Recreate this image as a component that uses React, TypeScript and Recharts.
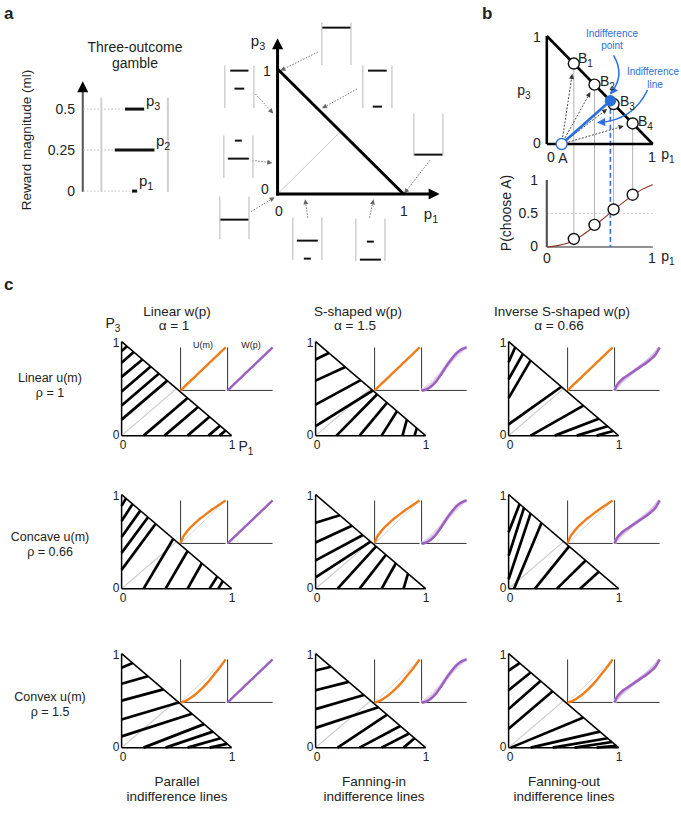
import React from "react";
import { ComposedChart, Scatter, XAxis, YAxis, ReferenceLine } from "recharts";

// ---------------- data ----------------

// panel a: example three-outcome gamble
const rewardLevels = [0, 0.25, 0.5];
const rewardTicks = ["0", "0.25", "0.5"];
const gambleProbs = [0.08, 0.62, 0.3]; // p1, p2, p3

// small gamble icons around the Marschak-Machina triangle: [p1, p2, p3]
const iconGambles = [
  [0, 0, 1],
  [0, 0.35, 0.65],
  [0.33, 0, 0.67],
  [0, 0.75, 0.25],
  [1, 0, 0],
  [0, 1, 0],
  [0.25, 0.75, 0],
  [0.75, 0.25, 0],
];
// dotted pointers from the icons to the triangle: [fromP1, fromP3, toP1, toP3]
const iconPointers = [
  [0.32, 1.136, 0.03, 0.99],
  [-0.175, 0.8, -0.04, 0.65],
  [0.63, 0.84, 0.36, 0.69],
  [-0.2, 0.27, -0.05, 0.25],
  [1.21, 0.27, 1.01, 0.01],
  [-0.21, -0.14, -0.03, -0.03],
  [0.24, -0.19, 0.22, -0.05],
  [0.73, -0.19, 0.76, -0.05],
];

// panel b
const optionA = [0.14, 0];
const optionsBp1 = [0.255, 0.45, 0.63, 0.81];
const optionsBp3 = [0.745, 0.55, 0.37, 0.19];
const chooseA = [0.12, 0.33, 0.56, 0.78];
const indiffPoint = [0.6, 0.4];
const fitP1 = [0, 0.1, 0.2, 0.3, 0.4, 0.5, 0.6, 0.7, 0.8, 0.9, 1];
const fitChooseA = [0, 0.02, 0.06, 0.14, 0.25, 0.38, 0.51, 0.64, 0.76, 0.86, 0.93];

// panel c: inset curves
const mGrid = [0, 0.05, 0.1, 0.2, 0.3, 0.4, 0.5, 0.6, 0.7, 0.8, 0.9, 1];
const uLinear = [0, 0.05, 0.1, 0.2, 0.3, 0.4, 0.5, 0.6, 0.7, 0.8, 0.9, 1];
const uConcave = [0, 0.14, 0.22, 0.35, 0.45, 0.55, 0.63, 0.71, 0.79, 0.86, 0.93, 1];
const uConvex = [0, 0.01, 0.03, 0.09, 0.16, 0.25, 0.35, 0.46, 0.59, 0.72, 0.85, 1];
const wLinear = [0, 0.05, 0.1, 0.2, 0.3, 0.4, 0.5, 0.6, 0.7, 0.8, 0.9, 1];
const wSShaped = [0, 0.005, 0.02, 0.08, 0.18, 0.32, 0.48, 0.64, 0.78, 0.89, 0.96, 1];
const wSShapedFit = [0, 0.02, 0.04, 0.11, 0.21, 0.34, 0.49, 0.63, 0.76, 0.87, 0.95, 1];
const wInvS = [0, 0.12, 0.19, 0.29, 0.36, 0.43, 0.5, 0.57, 0.64, 0.72, 0.82, 1];
const wInvSFit = [0, 0.1, 0.16, 0.26, 0.34, 0.42, 0.5, 0.58, 0.66, 0.75, 0.86, 1];

// panel c: indifference lines [p1a, p3a, p1b, p3b]
const linesLinLin = [
  [0, 0.9, 0.05, 0.95], [0, 0.775, 0.11, 0.89], [0, 0.625, 0.19, 0.81], [0, 0.47, 0.265, 0.735],
  [0, 0.32, 0.34, 0.66], [0, 0.17, 0.415, 0.585],
  [0.2, 0, 0.6, 0.4], [0.39, 0, 0.695, 0.305], [0.6, 0, 0.8, 0.2], [0.79, 0, 0.895, 0.105], [0.89, 0, 0.945, 0.055],
];
const linesLinS = [
  [0, 0.81, 0.12, 0.88], [0, 0.585, 0.27, 0.73], [0, 0.33, 0.41, 0.59], [0, 0.1, 0.52, 0.48],
  [0.19, 0, 0.56, 0.44], [0.4, 0, 0.65, 0.35], [0.6, 0, 0.74, 0.26], [0.79, 0, 0.83, 0.17], [0.9, 0, 0.92, 0.08],
];
const linesLinInv = [
  [0, 0.78, 0.06, 0.94], [0, 0.6, 0.13, 0.87], [0, 0.4, 0.2, 0.8], [0, 0.12, 0.48, 0.52],
  [0.2, 0, 0.68, 0.32], [0.42, 0, 0.82, 0.18], [0.62, 0, 0.9, 0.1], [0.8, 0, 0.95, 0.05],
];
const linesConLin = [
  [0, 0.88, 0.04, 0.96], [0, 0.72, 0.1, 0.9], [0, 0.55, 0.17, 0.83], [0, 0.38, 0.24, 0.76], [0, 0.2, 0.31, 0.69],
  [0.2, 0, 0.47, 0.53], [0.4, 0, 0.6, 0.4], [0.6, 0, 0.73, 0.27], [0.8, 0, 0.87, 0.13], [0.88, 0, 0.92, 0.08],
];
const linesConS = [
  [0, 0.7, 0.22, 0.78], [0, 0.49, 0.33, 0.67], [0, 0.3, 0.43, 0.57], [0, 0.12, 0.5, 0.5],
  [0.2, 0, 0.55, 0.45], [0.4, 0, 0.64, 0.36], [0.6, 0, 0.73, 0.27], [0.8, 0, 0.84, 0.16],
];
const linesConInv = [
  [0, 0.6, 0.1, 0.9], [0, 0.35, 0.14, 0.86], [0, 0.1, 0.2, 0.8], [0.05, 0, 0.3, 0.7],
  [0.24, 0, 0.55, 0.45], [0.44, 0, 0.7, 0.3], [0.65, 0, 0.82, 0.18],
];
const linesVexLin = [
  [0, 0.85, 0.1, 0.9], [0, 0.68, 0.24, 0.76], [0, 0.5, 0.38, 0.62], [0, 0.3, 0.52, 0.48], [0, 0.12, 0.64, 0.36],
  [0.2, 0, 0.75, 0.25], [0.4, 0, 0.83, 0.17], [0.6, 0, 0.9, 0.1], [0.8, 0, 0.96, 0.04],
];
const linesVexS = [
  [0, 0.82, 0.14, 0.86], [0, 0.61, 0.3, 0.7], [0, 0.41, 0.44, 0.56], [0, 0.21, 0.57, 0.43],
  [0.2, 0, 0.65, 0.35], [0.4, 0, 0.77, 0.23], [0.6, 0, 0.85, 0.15], [0.8, 0, 0.9, 0.1],
];
const linesVexInv = [
  [0, 0.82, 0.1, 0.9], [0, 0.61, 0.2, 0.8], [0, 0.41, 0.29, 0.71], [0, 0.2, 0.4, 0.6],
  [0.02, 0, 0.68, 0.32], [0.2, 0, 0.83, 0.17], [0.4, 0, 0.9, 0.1], [0.6, 0, 0.94, 0.06], [0.8, 0, 0.98, 0.02],
];

const colTitles = ["Linear w(p)", "S-shaped w(p)", "Inverse S-shaped w(p)"];
const colAlphas = ["α = 1", "α = 1.5", "α = 0.66"];
const colFooters = ["Parallel", "Fanning-in", "Fanning-out"];
const rowTitles = ["Linear u(m)", "Concave u(m)", "Convex u(m)"];
const rowRhos = ["ρ = 1", "ρ = 0.66", "ρ = 1.5"];
const rowU = [uLinear, uConcave, uConvex];
const colW = [wLinear, wSShaped, wInvS];
const colWFit = [null, wSShapedFit, wInvSFit];
const cellLines = [
  [linesLinLin, linesLinS, linesLinInv],
  [linesConLin, linesConS, linesConInv],
  [linesVexLin, linesVexS, linesVexInv],
];

// ---------------- layout / style ----------------
const FONT = "'Liberation Sans', Arial, Helvetica, sans-serif";
const ORANGE = "#ef7d1a";
const PURPLE = "#9c5fbf";
const PURPLE_LIGHT = "#d9c0e8";
const BLUE = "#2a6fdb";
const triLefts = [122, 316, 509];
const triTops = [342, 495, 654];
const rowLabelY = [378, 537, 697];
const TRI_W = 110;
const TRI_H = 94;
const outline = [[0, 0, 1, 0], [0, 0, 0, 1], [0, 1, 1, 0]];

// ---------------- helpers ----------------
function Txt({ x, y, children, size = 12, color = "#222", align = "center", rotate = 0, bold = false }: any) {
  const tx = align === "center" ? "-50%" : align === "right" ? "-100%" : "0";
  return (
    <div
      style={{
        position: "absolute", left: x, top: y, transform: `translate(${tx}, -50%) rotate(${rotate}deg)`,
        fontSize: size, color, fontWeight: bold ? 700 : 400, whiteSpace: "nowrap", lineHeight: 1, fontFamily: FONT,
      }}
    >
      {children}
    </div>
  );
}

const Sub = ({ c }: any) => (
  <span style={{ fontSize: "0.72em", position: "relative", top: "0.35em" }}>{c}</span>
);

function Frame({ ox, oy, sx, sy, xd = [-0.06, 1.06], yd = [-0.06, 1.06], children }: any) {
  const left = ox + xd[0] * sx;
  const top = oy - yd[1] * sy;
  const width = (xd[1] - xd[0]) * sx;
  const height = (yd[1] - yd[0]) * sy;
  return (
    <div style={{ position: "absolute", left, top, width, height }}>
      <ComposedChart width={width} height={height} margin={{ top: 0, right: 0, bottom: 0, left: 0 }}>
        <XAxis type="number" dataKey="x" domain={xd} hide allowDataOverflow />
        <YAxis type="number" dataKey="y" domain={yd} hide allowDataOverflow />
        {children}
      </ComposedChart>
    </div>
  );
}

const arrowShape = (marker: string, dash?: string) => (p: any) => (
  <line x1={p.x1} y1={p.y1} x2={p.x2} y2={p.y2} stroke={p.stroke} strokeWidth={p.strokeWidth}
    strokeDasharray={dash} markerEnd={`url(#${marker})`} />
);

const bentShape = (bend: number, marker: string) => (p: any) => {
  const mx = (p.x1 + p.x2) / 2, my = (p.y1 + p.y2) / 2;
  const dx = p.x2 - p.x1, dy = p.y2 - p.y1;
  const cx = mx - dy * bend, cy = my + dx * bend;
  return (
    <path d={`M${p.x1},${p.y1} Q${cx},${cy} ${p.x2},${p.y2}`} fill="none" stroke={p.stroke}
      strokeWidth={p.strokeWidth} markerEnd={`url(#${marker})`} />
  );
};

function seg(s: number[], stroke: string, width: number, key: any, extra: any = {}) {
  return (
    <ReferenceLine key={key} segment={[{ x: s[0], y: s[1] }, { x: s[2], y: s[3] }]} stroke={stroke}
      strokeWidth={width} ifOverflow="visible" {...extra} />
  );
}

function curve(xs: number[], ys: number[], stroke: string, width: number, key: any, extra: any = {}) {
  const data = xs.map((x, i) => ({ x, y: ys[i] }));
  return (
    <Scatter key={key} data={data} line={{ stroke, strokeWidth: width }} lineJointType="monotoneX"
      shape={() => <g />} isAnimationActive={false} {...extra} />
  );
}

function dots(xs: number[], ys: number[], key: any, fill: string, stroke: string, r = 5, extra: any = {}) {
  const data = xs.map((x, i) => ({ x, y: ys[i] }));
  return (
    <Scatter key={key} data={data} isAnimationActive={false} {...extra}
      shape={(p: any) => <circle cx={p.cx} cy={p.cy} r={r} fill={fill} stroke={stroke} strokeWidth={1.4} />} />
  );
}

function Markers() {
  const mk = (id: string, color: string, w: number, h: number, refX = 7) => (
    <marker id={id} viewBox="0 0 10 10" refX={refX} refY="5" markerWidth={w} markerHeight={h}
      markerUnits="userSpaceOnUse" orient="auto">
      <path d="M0,0 L10,5 L0,10 z" fill={color} />
    </marker>
  );
  return (
    <svg width={0} height={0} style={{ position: "absolute" }}>
      <defs>
        {mk("ahBlack", "#000", 14, 11)}
        {mk("ahGray", "#666", 6, 5, 8)}
        {mk("ahDark", "#333", 6, 5, 8)}
        {mk("ahBlue", BLUE, 9, 8, 8)}
      </defs>
    </svg>
  );
}

// ---------------- panel a ----------------
function Icon({ cx, y0, g }: any) {
  return (
    <Frame ox={cx} oy={y0} sx={28} sy={72} xd={[-0.62, 0.62]} yd={[-0.06, 0.62]}>
      {seg([-0.52, -0.02, -0.52, 0.57], "#cfcfcf", 1.5, "l")}
      {seg([0.52, -0.02, 0.52, 0.57], "#cfcfcf", 1.5, "r")}
      {g.map((p: number, i: number) =>
        p > 0 ? seg([-p / 2, rewardLevels[i], p / 2, rewardLevels[i]], "#111", 2, "b" + i) : null)}
    </Frame>
  );
}
const iconPos = [[336, 64], [239, 107], [377, 107], [238, 177], [428, 155], [234, 238], [307, 259], [370, 260]];

function PanelA() {
  return (
    <>
      <Txt x={4} y={13} size={17} bold align="left">a</Txt>
      <Txt x={135} y={47} size={14}>Three-outcome</Txt>
      <Txt x={135} y={63} size={14}>gamble</Txt>
      <Txt x={27} y={140} size={13.5} rotate={-90}>Reward magnitude (ml)</Txt>
      {rewardLevels.map((m, i) => (
        <Txt key={i} x={75} y={191 - m * 164} size={14} align="right">{rewardTicks[i]}</Txt>
      ))}
      <Frame ox={135} oy={191} sx={64} sy={164} xd={[-0.9, 0.62]} yd={[-0.06, 0.72]}>
        {seg([-0.81, -0.005, -0.81, 0.65], "#555", 2, "ax", { shape: arrowShape("ahBlack") })}
        {rewardLevels.map((m, i) => seg([-0.8, m, -gambleProbs[i] / 2, m], "#bdbdbd", 1, "d" + i, { strokeDasharray: "1.5 2" }))}
        {seg([-0.52, -0.005, -0.52, 0.57], "#cfcfcf", 2, "gl")}
        {seg([0.52, -0.005, 0.52, 0.57], "#cfcfcf", 2, "gr")}
        {rewardLevels.map((m, i) => seg([-gambleProbs[i] / 2, m, gambleProbs[i] / 2, m], "#111", 3, "b" + i))}
      </Frame>
      <Txt x={146} y={100} size={15} align="left">p<Sub c="3" /></Txt>
      <Txt x={156} y={140} size={15} align="left">p<Sub c="2" /></Txt>
      <Txt x={139} y={180} size={15} align="left">p<Sub c="1" /></Txt>

      <Frame ox={278} oy={194} sx={126} sy={125} xd={[-0.56, 1.35]} yd={[-0.62, 1.4]}>
        {seg([0, 0, 0.5, 0.5], "#c8c8c8", 1, "diag")}
        {iconPointers.map((s, i) => seg(s, "#777", 1, "p" + i, { shape: arrowShape("ahGray", "1.5 1.5") }))}
        {seg([0, 1, 1, 0], "#000", 3, "hyp")}
        {seg([-0.012, 0, 1.26, 0], "#000", 3, "xa", { shape: arrowShape("ahBlack") })}
        {seg([0, -0.012, 0, 1.22], "#000", 3, "ya", { shape: arrowShape("ahBlack") })}
      </Frame>
      {iconGambles.map((g, i) => <Icon key={i} cx={iconPos[i][0]} y0={iconPos[i][1]} g={g} />)}
      <Txt x={258} y={40} size={15}>p<Sub c="3" /></Txt>
      <Txt x={267} y={71} size={14}>1</Txt>
      <Txt x={265} y={189} size={14}>0</Txt>
      <Txt x={279} y={211} size={14}>0</Txt>
      <Txt x={404} y={211} size={14}>1</Txt>
      <Txt x={431} y={213} size={15}>p<Sub c="1" /></Txt>
    </>
  );
}

// ---------------- panel b ----------------
const B_X0 = 547, B_SX = 106;
const TRI_Y0 = 144, TRI_SY = 108;
const PC_Y0 = 247, PC_SY = 67;
const B_TOP = 16, B_H = 252;
const bXd = [-0.3, 1.35];
const triYb = (TRI_Y0 - B_TOP) / TRI_SY;
const pcYb = (PC_Y0 - B_TOP) / PC_SY;
const triYd = [triYb - B_H / TRI_SY, triYb];
const pcYd = [pcYb - B_H / PC_SY, pcYb];
const pcToTri = (v: number) => (TRI_Y0 - (PC_Y0 - v * PC_SY)) / TRI_SY;

function PanelB() {
  const W = (bXd[1] - bXd[0]) * B_SX;
  const tri = { yAxisId: "tri" };
  const pc = { yAxisId: "pc" };
  return (
    <>
      <Txt x={482} y={13} size={17} bold align="left">b</Txt>
      <div style={{ position: "absolute", left: B_X0 + bXd[0] * B_SX, top: B_TOP }}>
        <ComposedChart width={W} height={B_H} margin={{ top: 0, right: 0, bottom: 0, left: 0 }}>
          <XAxis type="number" dataKey="x" domain={bXd} hide allowDataOverflow />
          <YAxis yAxisId="tri" type="number" dataKey="y" domain={triYd} hide allowDataOverflow />
          <YAxis yAxisId="pc" type="number" dataKey="y" domain={pcYd} hide allowDataOverflow />
          {/* choice curve panel */}
          {seg([0, 0.5, 1, 0.5], "#cccccc", 1, "half", { ...pc, strokeDasharray: "2 2" })}
          {seg([0, 0, 1, 0], "#222", 1, "pcx", pc)}
          {seg([0, 0, 0, 1], "#555", 2.2, "pcy", pc)}
          {curve(fitP1, fitChooseA, "#8a3324", 1.1, "fit", pc)}
          {optionsBp1.map((x, i) =>
            seg([x, optionsBp3[i], x, pcToTri(chooseA[i]) + 0.05], "#aaaaaa", 0.9, "c" + i, tri))}
          {seg([indiffPoint[0], indiffPoint[1], indiffPoint[0], pcToTri(0)], BLUE, 1.6, "bd", { ...tri, strokeDasharray: "5 3" })}
          {/* triangle */}
          {outline.map((s, i) => seg(s, "#000", 2.6, "o" + i, tri))}
          {optionsBp1.map((x, i) => {
            const t = 0.86;
            const e = [optionA[0] + (x - optionA[0]) * t, optionA[1] + (optionsBp3[i] - optionA[1]) * t];
            return seg([optionA[0], optionA[1], e[0], e[1]], "#333", 0.9, "a" + i, { ...tri, shape: arrowShape("ahDark", "2 1.5") });
          })}
          {seg([optionA[0], optionA[1], indiffPoint[0], indiffPoint[1]], BLUE, 2.6, "il", tri)}
          {seg([0.63, 0.82, 0.605, 0.47], BLUE, 1.5, "ap", { ...tri, shape: bentShape(-0.35, "ahBlue") })}
          {seg([0.95, 0.5, 0.49, 0.2], BLUE, 1.5, "al", { ...tri, shape: bentShape(-0.3, "ahBlue") })}
          {dots(optionsBp1, optionsBp3, "B", "#fff", "#111", 5.5, tri)}
          {dots([indiffPoint[0]], [indiffPoint[1]], "I", BLUE, BLUE, 5, tri)}
          {dots([optionA[0]], [optionA[1]], "A", "#fff", BLUE, 5.5, tri)}
          {dots(optionsBp1, chooseA, "P", "#fff", "#111", 5.5, pc)}
        </ComposedChart>
      </div>
      <Txt x={537} y={37} size={14}>1</Txt>
      <Txt x={537} y={143} size={14}>0</Txt>
      <Txt x={524} y={90} size={14}>p<Sub c="3" /></Txt>
      <Txt x={551} y={157} size={14}>0</Txt>
      <Txt x={563} y={158} size={14}>A</Txt>
      <Txt x={652} y={157} size={14}>1</Txt>
      <Txt x={668} y={154} size={14}>p<Sub c="1" /></Txt>
      <Txt x={578} y={58} size={14} align="left">B<Sub c="1" /></Txt>
      <Txt x={600} y={81} size={14} align="left">B<Sub c="2" /></Txt>
      <Txt x={620} y={101} size={14} align="left">B<Sub c="3" /></Txt>
      <Txt x={638} y={121} size={14} align="left">B<Sub c="4" /></Txt>
      <Txt x={612} y={34} size={10} color={BLUE}>Indifference</Txt>
      <Txt x={612} y={46} size={10} color={BLUE}>point</Txt>
      <Txt x={653} y={72} size={10} color={BLUE}>Indifference</Txt>
      <Txt x={655} y={85} size={10} color={BLUE}>line</Txt>
      <Txt x={506} y={213} size={14} rotate={-90}>P(choose A)</Txt>
      <Txt x={538} y={180} size={14} align="right">1</Txt>
      <Txt x={538} y={213} size={14} align="right">0.5</Txt>
      <Txt x={538} y={246} size={14} align="right">0</Txt>
      <Txt x={547} y={258} size={14}>0</Txt>
      <Txt x={652} y={258} size={14}>1</Txt>
      <Txt x={668} y={256} size={14}>p<Sub c="1" /></Txt>
    </>
  );
}

// ---------------- panel c ----------------
function Inset({ left, top, ys, fit, color }: any) {
  return (
    <Frame ox={left} oy={top + 43} sx={45} sy={43} xd={[-0.08, 1.08]} yd={[-0.08, 1.08]}>
      {seg([0, 0, 1, 1], "#d8d8d8", 1, "g")}
      {seg([0, 0, 0, 1], "#333", 1, "ay")}
      {seg([0, 0, 1, 0], "#333", 1, "ax")}
      {fit ? curve(mGrid, fit, PURPLE_LIGHT, 3.5, "f") : null}
      {curve(mGrid, ys, color, 2.4, "c")}
    </Frame>
  );
}

function Cell({ r, c }: any) {
  const left = triLefts[c];
  const top = triTops[r];
  return (
    <>
      <Frame ox={left} oy={top + TRI_H} sx={TRI_W} sy={TRI_H}>
        {seg([0, 0, 0.5, 0.5], "#c9c9c9", 1.2, "d")}
        {outline.map((s, i) => seg(s, "#000", 1.5, "o" + i))}
        {cellLines[r][c].map((s, i) => seg(s, "#000", 2.7, "h" + i))}
      </Frame>
      <Inset left={left + 59} top={top + 5} ys={rowU[r]} color={ORANGE} />
      <Inset left={left + 106} top={top + 5} ys={colW[c]} fit={colWFit[c]} color={PURPLE} />
      <Txt x={left - 6} y={top + 1} size={12}>1</Txt>
      <Txt x={left - 6} y={top + TRI_H - 1} size={12}>0</Txt>
      <Txt x={left + 1} y={top + TRI_H + 9} size={12}>0</Txt>
      <Txt x={left + TRI_W} y={top + TRI_H + 9} size={12}>1</Txt>
    </>
  );
}

function PanelC() {
  const titleX = [177, 358, 562];
  const footX = [177, 374, 564];
  return (
    <>
      <Txt x={4} y={284} size={17} bold align="left">c</Txt>
      {colTitles.map((t, i) => (
        <React.Fragment key={i}>
          <Txt x={titleX[i]} y={312} size={13.5}>{t}</Txt>
          <Txt x={titleX[i] - 3} y={326} size={13.5}>{colAlphas[i]}</Txt>
          <Txt x={footX[i]} y={782} size={13.5}>{colFooters[i]}</Txt>
          <Txt x={footX[i]} y={797} size={13.5}>indifference lines</Txt>
        </React.Fragment>
      ))}
      {rowTitles.map((t, i) => (
        <React.Fragment key={i}>
          <Txt x={50} y={rowLabelY[i]} size={12.5}>{t}</Txt>
          <Txt x={50} y={rowLabelY[i] + 15} size={12.5}>{rowRhos[i]}</Txt>
        </React.Fragment>
      ))}
      {[0, 1, 2].map((r) => [0, 1, 2].map((c) => <Cell key={r + "-" + c} r={r} c={c} />))}
      <Txt x={113} y={323} size={14}>P<Sub c="3" /></Txt>
      <Txt x={246} y={446} size={14}>P<Sub c="1" /></Txt>
      <Txt x={203} y={345} size={9}>U(m)</Txt>
      <Txt x={251} y={345} size={9}>W(p)</Txt>
    </>
  );
}

export default function App() {
  return (
    <div style={{ position: "absolute", left: 0, top: 0, width: 681, height: 814, background: "#fff", overflow: "hidden", fontFamily: FONT }}>
      <Markers />
      <PanelA />
      <PanelB />
      <PanelC />
    </div>
  );
}
